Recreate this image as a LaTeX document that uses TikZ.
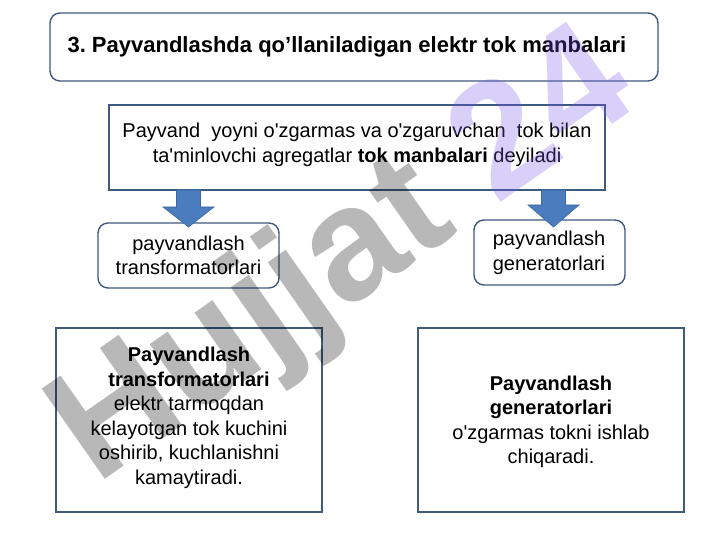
\documentclass[tikz,border=0pt]{standalone}
\usepackage{fontspec}
\setmainfont{Liberation Sans}
\usetikzlibrary{calc}
\definecolor{boxline}{HTML}{3E5A7E}
\definecolor{arrowfill}{HTML}{4A7CBE}
\definecolor{arrowline}{HTML}{3A67A3}
\definecolor{wmgray}{HTML}{000000}
\definecolor{wmpurple}{HTML}{7A58EE}
\begin{document}
\begin{tikzpicture}[x=1pt,y=-1pt,
  box/.style={draw=boxline,line width=1.4pt,inner sep=0pt,outer sep=0pt},
  rbox/.style={box,rounded corners=10pt},
  body/.style={font=\fontsize{20}{24.5}\selectfont,align=center,text=black},
  blockarrow/.style={fill=arrowfill,draw=arrowline,line width=0.6pt,line join=miter},
  barrow/.pic={\path[blockarrow] (-12,0) -- (12,0) -- (12,#1) -- (25.5,#1) -- (0,37) -- (-25.5,#1) -- (-12,#1) -- cycle;}]
\useasboundingbox[fill=white] (0,0) rectangle (720,540);
% boxes
\node[rbox,minimum width=608pt,minimum height=68pt] (titlebox) at (354,47) {};
\node[anchor=west,font=\fontsize{22}{26}\selectfont\bfseries] (title) at (64,47) {3.\ Payvandlashda qo’llaniladigan elektr tok manbalari};

\node[box,minimum width=496pt,minimum height=85pt] (mainbox) at (357,147.5) {};
\node[body] (main) at (357,145) {Payvand~ yoyni o\textquotesingle zgarmas va o\textquotesingle zgaruvchan~ tok bilan\\ ta\textquotesingle minlovchi agregatlar \textbf{tok manbalari} deyiladi};

\node[rbox,minimum width=181pt,minimum height=65pt] (transbox) at (188.5,255.5) {};
\node[body] (trans) at (188.5,255.5) {payvandlash\\transformatorlari};
\node[rbox,minimum width=151pt,minimum height=65pt] (genbox) at (549.5,252.5) {};
\node[body] (gen) at (549,253) {payvandlash\\generatorlari};

\node[box,minimum width=266pt,minimum height=184pt] (transdescbox) at (189,420) {};
\node[body] (transdesc) at (189,418) {\textbf{Payvandlash}\\\textbf{transformatorlari}\\elektr tarmoqdan\\kelayotgan tok kuchini\\oshirib, kuchlanishni\\kamaytiradi.};
\node[box,minimum width=266pt,minimum height=184pt] (gendescbox) at (551,420) {};
\node[body] (gendesc) at (551,422) {\textbf{Payvandlash}\\\textbf{generatorlari}\\o\textquotesingle zgarmas tokni ishlab\\chiqaradi.};

% block arrows from the main box to the two small boxes
\coordinate (a1) at (mainbox.south -| transbox.center);
\coordinate (a2) at ($(mainbox.south -| genbox.center)+(4,0)$);
\pic at (a1) {barrow=17};
\pic at (a2) {barrow=15};

% watermark
\node[rotate=35,anchor=base west,inner sep=0pt,opacity=0.28,text=wmgray,font=\fontsize{160}{160}\selectfont\bfseries] (wm) at (96,486) {Hujjat \textcolor{wmpurple}{24}};
\end{tikzpicture}
\end{document}
